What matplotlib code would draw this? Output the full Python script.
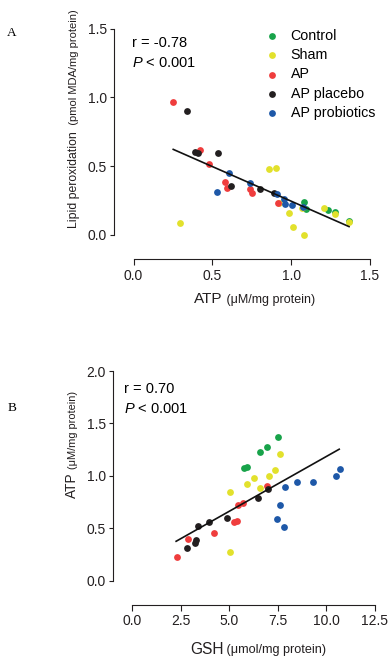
import matplotlib
matplotlib.use("Agg")
from matplotlib import pyplot as plt

plt.rcParams['font.family'] = ['Liberation Sans', 'DejaVu Sans']
plt.rcParams['mathtext.fontset'] = 'custom'
plt.rcParams['mathtext.rm'] = 'Liberation Sans'
plt.rcParams['mathtext.it'] = 'Liberation Sans:italic'

groups = ["Control", "Sham", "AP", "AP placebo", "AP probiotics"]
colors = ["#18a34a", "#e2e12c", "#ef3d3d", "#231f20", "#1e58a8"]

# panel A: ATP vs lipid peroxidation
a_x = {
    "Control": [1.079, 1.092, 1.231, 1.276, 1.369],
    "Sham": [0.297, 0.861, 0.904, 0.986, 1.011, 1.079, 1.066, 1.21, 1.278, 1.367, 0.925],
    "AP": [0.252, 0.42, 0.477, 0.582, 0.595, 0.741, 0.753, 0.918],
    "AP placebo": [0.337, 0.39, 0.407, 0.538, 0.62, 0.802, 0.893],
    "AP probiotics": [0.531, 0.606, 0.737, 0.908, 0.956, 0.961, 1.007, 1.077],
}
a_y = {
    "Control": [0.24, 0.189, 0.182, 0.169, 0.102],
    "Sham": [0.085, 0.482, 0.489, 0.162, 0.056, -0.002, 0.196, 0.198, 0.152, 0.097, 0.235],
    "AP": [0.966, 0.62, 0.518, 0.387, 0.344, 0.334, 0.307, 0.235],
    "AP placebo": [0.90, 0.60, 0.593, 0.593, 0.358, 0.334, 0.305],
    "AP probiotics": [0.315, 0.448, 0.378, 0.298, 0.259, 0.223, 0.216, 0.203],
}
a_fit_x = [0.252, 1.367]
a_fit_y = [0.622, 0.061]

# panel B: GSH vs ATP
b_x = {
    "Control": [5.78, 5.94, 6.61, 6.94, 7.51],
    "Sham": [5.03, 5.04, 5.92, 6.25, 6.61, 7.07, 7.37, 7.63],
    "AP": [2.29, 2.89, 4.23, 5.25, 5.4, 5.46, 5.72, 6.94],
    "AP placebo": [2.81, 3.25, 3.30, 3.38, 3.98, 4.89, 6.5, 7.02],
    "AP probiotics": [7.9, 8.49, 9.33, 10.69, 10.52, 7.61, 7.45, 7.8],
}
b_y = {
    "Control": [1.072, 1.082, 1.228, 1.273, 1.368],
    "Sham": [0.271, 0.846, 0.92, 0.98, 0.887, 1.002, 1.056, 1.206],
    "AP": [0.223, 0.395, 0.458, 0.56, 0.573, 0.725, 0.738, 0.904],
    "AP placebo": [0.309, 0.363, 0.385, 0.519, 0.563, 0.601, 0.789, 0.872],
    "AP probiotics": [0.894, 0.945, 0.945, 1.066, 0.996, 0.719, 0.586, 0.51],
}
b_fit_x = [2.26, 10.67]
b_fit_y = [0.376, 1.254]

fig = plt.figure(figsize=(3.89, 6.57), dpi=100)
W, H = 389.0, 657.0

axA = fig.add_axes([133.5 / W, 1 - 235 / H, 236.5 / W, 206.5 / H])
axB = fig.add_axes([132.3 / W, 1 - 580.7 / H, 242.4 / W, 209.7 / H])


def style(ax, xlim, ylim, xticks, yticks, xlabels, ylabels):
    ax.set_xlim(xlim)
    ax.set_ylim(ylim)
    ax.set_xticks(xticks, xlabels)
    ax.set_yticks(yticks, ylabels)
    for s in ["top", "right"]:
        ax.spines[s].set_visible(False)
    ax.spines["left"].set_position(("outward", 14))
    ax.spines["bottom"].set_position(("outward", 17.2))
    ax.spines["left"].set_bounds(ylim)
    ax.spines["bottom"].set_bounds(xlim)
    for s in ["left", "bottom"]:
        ax.spines[s].set_linewidth(0.8)
        ax.spines[s].set_color("#231f20")
    ax.tick_params(axis="x", length=4, width=0.8, pad=3, labelsize=10, colors="#231f20")
    ax.tick_params(axis="y", length=3.2, width=0.8, pad=2, labelsize=10, colors="#231f20")
    ax.patch.set_visible(False)


style(axA, (0, 1.5), (0, 1.5), [0, 0.5, 1.0, 1.5], [0, 0.5, 1.0, 1.5],
      ["0.0", "0.5", "1.0", "1.5"], ["0.0", "0.5", "1.0", "1.5"])
style(axB, (0, 12.5), (0, 2.0), [0, 2.5, 5, 7.5, 10, 12.5], [0, 0.5, 1.0, 1.5, 2.0],
      ["0.0", "2.5", "5.0", "7.5", "10.0", "12.5"], ["0.0", "0.5", "1.0", "1.5", "2.0"])

handles = []
for g, c in zip(groups, colors):
    h = axA.scatter(a_x[g], a_y[g], s=24, color=c, linewidths=0, clip_on=False, label=g)
    axB.scatter(b_x[g], b_y[g], s=24, color=c, linewidths=0, clip_on=False)
    handles.append(h)

axA.plot(a_fit_x, a_fit_y, color="#111111", lw=1.2, zorder=3)
axB.plot(b_fit_x, b_fit_y, color="#111111", lw=1.2, zorder=3)

axA.legend(handles=handles, loc="upper left", bbox_to_anchor=(0.561, 1.0),
           frameon=False, fontsize=10.3, borderpad=0, handlelength=0.8,
           handletextpad=0.91, labelspacing=0.38, scatterpoints=1, borderaxespad=0)

axA.text(-0.005, 0.912, "r = -0.78", transform=axA.transAxes, fontsize=10.5, va="baseline")
axA.text(-0.005, 0.815, "$P$ < 0.001", transform=axA.transAxes, fontsize=10.5, va="baseline")
axB.text(-0.034, 0.8965, "r = 0.70", transform=axB.transAxes, fontsize=10.5, va="baseline")
axB.text(-0.034, 0.801, "$P$ < 0.001", transform=axB.transAxes, fontsize=10.5, va="baseline")

renderer = fig.canvas.get_renderer()


def two_part_label(x, y, big, small, bigsize, smallsize, rot=0):
    # big word then smaller unit text, like the original figure
    t1 = fig.text(x / W, 1 - y / H, big, fontsize=bigsize, rotation=rot,
                  rotation_mode="anchor", ha="left", va="baseline", color="#231f20")
    bb = t1.get_window_extent(renderer)
    if rot == 0:
        x2, y2 = x + bb.width, y
    else:
        x2, y2 = x, y - bb.height
    fig.text(x2 / W, 1 - y2 / H, small, fontsize=smallsize, rotation=rot,
             rotation_mode="anchor", ha="left", va="baseline", color="#231f20")


two_part_label(194.3, 303, "ATP", " (\u03bcM/mg protein)", 11, 9)
two_part_label(77, 228, "Lipid peroxidation", "  (pmol MDA/mg protein)", 8.8, 8.0, rot=90)
two_part_label(190, 653.5, "GSH", " (\u03bcmol/mg protein)", 11.2, 9.1)
two_part_label(76, 498, "ATP", " (\u03bcM/mg protein)", 9.8, 7.9, rot=90)

fig.text(7 / W, 1 - 36 / H, "A", fontsize=9.5, family="Liberation Serif", va="baseline")
fig.text(8 / W, 1 - 411 / H, "B", fontsize=9.5, family="Liberation Serif", va="baseline")

fig.savefig("out.png", dpi=100)
